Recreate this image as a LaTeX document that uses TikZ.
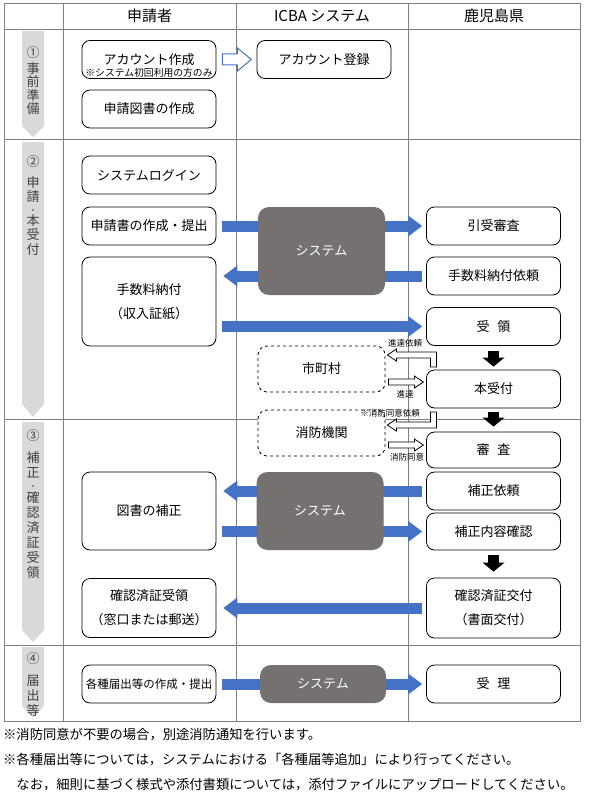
\documentclass[tikz,border=0pt]{standalone}
\usepackage{fontspec}
\setmainfont{Noto Sans CJK JP}
\usetikzlibrary{arrows.meta}
\definecolor{cblue}{RGB}{68,114,196}
\definecolor{cgray}{RGB}{118,113,113}
\definecolor{cgrid}{RGB}{128,128,128}
\definecolor{cphase}{RGB}{217,217,217}
\definecolor{cphtext}{RGB}{64,64,64}
\pgfdeclarelayer{grid}
\pgfdeclarelayer{flow}
\pgfsetlayers{grid,flow,main}
\newcommand{\vdot}{{\fontsize{8}{8}\selectfont ・}}

\begin{document}
\begin{tikzpicture}[x=1pt, y=-1pt,
    box/.style={draw, fill=white, rounded corners=8pt, line width=0.8pt,
                minimum width=134pt, minimum height=38pt, inner sep=0pt,
                align=center, font=\fontsize{13}{24}\selectfont},
    sys/.style={fill=cgray, rounded corners=11pt, text=white, minimum width=127pt,
                inner sep=0pt, font=\fontsize{13}{16}\selectfont},
    dashbox/.style={draw, dashed, fill=white, rounded corners=9pt, line width=0.8pt,
                minimum width=127pt, minimum height=46pt, font=\fontsize{13}{16}\selectfont},
    colhead/.style={font=\fontsize{15}{18}\selectfont},
    phasetext/.style={text=cphtext, align=center, anchor=north, inner sep=0pt,
                font=\fontsize{13}{14.5}\selectfont},
    blueflow/.style={line width=11pt, cblue, -{Triangle[width=21pt, length=14pt, line width=0pt]}},
    blackdown/.style={line width=11pt, black, -{Triangle[width=22pt, length=9pt, line width=0pt]}},
    hollow/.style={draw, fill=white, line width=0.8pt, line join=miter},
    tinylbl/.style={font=\fontsize{8.5}{10}\selectfont, inner sep=0pt},
    note/.style={anchor=west, inner sep=0pt, font=\fontsize{13.3}{16}\selectfont},
  ]
  \begin{pgfonlayer}{grid}
    \path[use as bounding box, fill=white] (0,0) rectangle (592,800);
    % table
    \draw[cgrid, line width=0.8pt] (4,3) rectangle (580,721);
    \foreach \x in {63,236,408}
      \draw[cgrid, line width=0.8pt] (\x,3) -- (\x,721);
    \foreach \y in {29,139,419,645}
      \draw[cgrid, line width=0.8pt] (4,\y) -- (580,\y);
  \end{pgfonlayer}

  % headers
  \node[colhead] (hA) at (149.5,16) {申請者};
  \node[colhead] (hB) at (322,16) {ICBA システム};
  \node[colhead] (hC) at (494,16) {鹿児島県};

  % phases
  \foreach \t/\s/\e in {31/126/137, 142/404/417, 422/630/642, 647/706/718}
    \fill[cphase] (22,\t) -- (44,\t) -- (44,\s) -- (33,\e) -- (22,\s) -- cycle;
  \node[phasetext] (p1) at (33,46) {①\\[1.5pt]事\\[-1pt]前\\[-1pt]準\\[-1pt]備};
  \node[phasetext] (p2) at (33,155) {②\\[6.5pt]申\\請\\[-3pt]\vdot\\[-2.5pt]本\\受\\付};
  \node[phasetext, font=\fontsize{13}{15}\selectfont] (p3) at (33,429)
    {③\\[7pt]補\\正\\[-3pt]\vdot\\[-1.5pt]確\\認\\済\\証\\受\\領};
  \node[phasetext, font=\fontsize{13}{15}\selectfont] (p4) at (33,652) {④\\[7pt]届\\出\\等};

  % 1 preparation
  \node[box] (acc) at (149,59.5) {アカウント作成};
  \node[font=\fontsize{9.8}{10}\selectfont, inner sep=0pt] (accnote) at (149,73) {※システム初回利用の方のみ};
  \node[box] (reg) at (324,59.5) {アカウント登録};
  \node[box] (zusho) at (149,109) {申請図書の作成};
  \draw[hollow, draw=cblue, line width=1pt, shift={(acc.east)}]
    (6,-5.5) -- (21,-5.5) -- (21,-11.5) -- (35,0) -- (21,11.5) -- (21,5.5) -- (6,5.5) -- cycle;

  % 2 application
  \node[box] (login) at (149,175) {システムログイン};
  \node[box] (sin) at (149,226) {申請書の作成・提出};
  \node[box, minimum height=89pt] (fee) at (149,301.5) {手数料納付\\（収入証紙）};
  \node[sys, minimum height=88pt] (sys1) at (321.5,251) {システム};
  \node[box] (hik) at (493.5,226) {引受審査};
  \node[box] (irai) at (493.5,276) {手数料納付依頼};
  \node[box] (juryo) at (493.5,326.5) {受\hspace{0.6em}領};
  \node[dashbox] (sicho) at (321.5,369) {市町村};
  \node[box] (hon) at (493.5,389) {本受付};

  % 3 correction
  \node[dashbox] (shobo) at (321.5,433) {消防機関};
  \node[box, minimum height=36pt] (shin) at (493.5,450) {審\hspace{0.6em}査};
  \node[box] (hosei) at (493.5,491) {補正依頼};
  \node[box, minimum height=37pt] (naiyo) at (493.5,531.5) {補正内容確認};
  \node[box, minimum height=60pt] (kofu) at (493.5,608) {確認済証交付\\（書面交付）};
  \node[box, minimum height=78pt] (hoseiz) at (149,511) {図書の補正};
  \node[sys, minimum height=78pt] (sys2) at (320,511) {システム};
  \node[box, minimum height=59pt] (kakunin) at (149,608) {確認済証受領\\（窓口または郵送）};

  % 4 notifications
  \node[box, font=\fontsize{11.5}{14}\selectfont] (todoke) at (149,684) {各種届出等の作成・提出};
  \node[sys, minimum height=38pt, minimum width=126pt] (sys3) at (323,684) {システム};
  \node[box] (juri) at (493.5,684) {受\hspace{0.6em}理};

  % system flows
  \begin{pgfonlayer}{flow}
    \draw[blueflow, shorten <=6pt, shorten >=4pt] (sin.east) -- (hik.west);
    \draw[blueflow, shorten <=4pt, shorten >=7pt] (irai.west) -- (irai.west -| fee.east);
    \draw[blueflow, shorten <=6pt, shorten >=4pt] (fee.east |- juryo.west) -- (juryo.west);
    \draw[blueflow, shorten <=4pt, shorten >=7pt] (hosei.west) -- (hosei.west -| hoseiz.east);
    \draw[blueflow, shorten <=6pt, shorten >=4pt] (hoseiz.east |- naiyo.west) -- (naiyo.west);
    \draw[blueflow, shorten <=4pt, shorten >=7pt] (kofu.west) -- (kofu.west -| kakunin.east);
    \draw[blueflow, shorten <=6pt, shorten >=4pt] (todoke.east) -- (juri.west);
  \end{pgfonlayer}

  % prefecture steps
  \draw[blackdown, shorten <=5pt, shorten >=3pt] (juryo.south) -- (hon.north);
  \draw[blackdown, shorten <=4pt, shorten >=5pt] (hon.south) -- (shin.north);
  \draw[blackdown, shorten <=5pt, shorten >=6pt] (naiyo.south) -- (kofu.north);

  % municipality / fire department
  \draw[hollow, shift={(sicho.east)}]
    (51,-2) -- (51,-17) -- (11,-17) -- (11,-20) -- (2,-14) -- (11,-8) -- (11,-11) -- (45,-11) -- (45,-2) -- cycle;
  \draw[hollow, shift={(sicho.east)}]
    (3,10) -- (29,10) -- (29,7) -- (38,13) -- (29,19) -- (29,16) -- (3,16) -- cycle;
  \draw[hollow, shift={(shobo.east)}]
    (45,-21) -- (51,-21) -- (51,-5) -- (11,-5) -- (11,-2) -- (2,-8) -- (11,-14) -- (11,-11) -- (45,-11) -- cycle;
  \draw[hollow, shift={(shobo.east)}]
    (3,9) -- (29,9) -- (29,6) -- (38,12) -- (29,18) -- (29,15) -- (3,15) -- cycle;
  \node[tinylbl] (lsinirai) at (405,343) {進達依頼};
  \node[tinylbl] (lsin) at (405,394) {進達};
  \node[tinylbl] (lfireirai) at (390,413) {※消防同意依頼};
  \node[tinylbl] (lfire) at (407,457) {消防同意};

  % notes
  \node[note] (n1) at (3,735) {※消防同意が不要の場合，別途消防通知を行います。};
  \node[note] (n2) at (3,760) {※各種届出等については，システムにおける「各種届等追加」により行ってください。};
  \node[note] (n3) at (3,785) {　なお，細則に基づく様式や添付書類については，添付ファイルにアップロードしてください。};
\end{tikzpicture}
\end{document}
